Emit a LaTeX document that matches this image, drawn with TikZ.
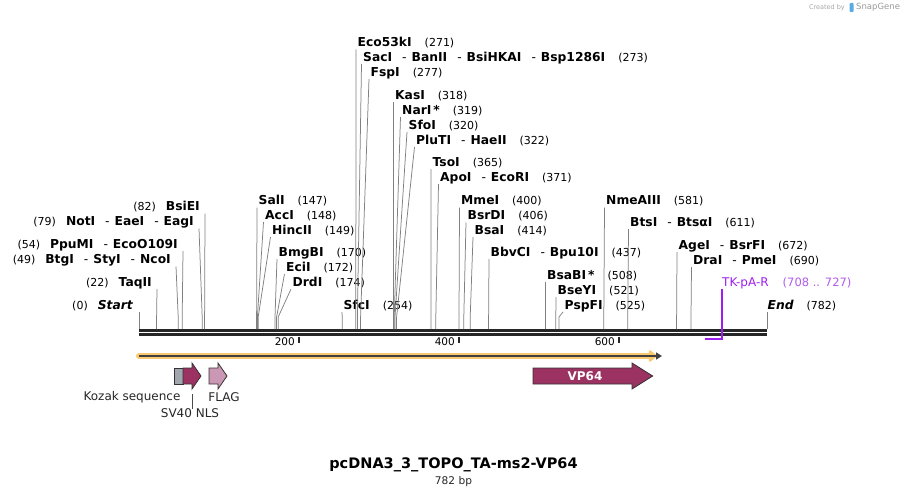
\documentclass[tikz,border=0pt]{standalone}
\usepackage{fontspec}
\setmainfont{DejaVu Sans}
\usepackage{xcolor}
\usetikzlibrary{positioning, arrows.meta}

\definecolor{cutgray}{RGB}{128,128,128}
\definecolor{featred}{RGB}{155,50,98}
\definecolor{flagpink}{RGB}{202,152,180}
\definecolor{kozakgray}{RGB}{160,166,174}
\definecolor{primerpurple}{RGB}{158,30,240}
\definecolor{primerlight}{RGB}{178,90,236}
\definecolor{orfglow}{RGB}{250,200,110}
\definecolor{logoblue}{RGB}{90,170,230}

% enzyme label helpers
\newcommand{\dsh}{\hspace{10pt}{\mdseries -}\hspace{5pt}}
\newcommand{\rcut}[2]{{\fontsize{12.3}{14}\selectfont\bfseries #1}\hspace{13pt}{\fontsize{11}{13}\selectfont(#2)}}
\newcommand{\lcut}[2]{{\fontsize{11}{13}\selectfont(#2)}\hspace{10pt}{\fontsize{12.3}{14}\selectfont\bfseries #1}}

\begin{document}
\begin{tikzpicture}[
      x=1pt, y=-1pt,
      cutline/.style={draw=cutgray, line width=0.75pt},
      cutlabel/.style={inner sep=0pt},
      backbone/.style={draw=black!85, line width=2.8pt},
      tickmark/.style={draw=black!85, line width=1.8pt},
      ticklabel/.style={inner sep=0pt, font=\fontsize{10.5}{12}\selectfont},
      featbox/.style={draw=black!80, line width=0.8pt},
      featlabel/.style={inner sep=0pt, font=\fontsize{12}{14}\selectfont, text=black!85},
      primer/.style={draw=primerpurple, line width=1.6pt}
    ]
    \useasboundingbox (0,0) rectangle (907,495);

    % sequence backbone
    \coordinate (seqL) at (139,329);
    \coordinate (seqR) at (767,329);
    \draw [backbone] (139,330.6) -- (767,330.6);
    \draw [backbone, line width=2.4pt] (139,334.6) -- (767,334.6);

    % ruler
    \foreach \t in {200,400,600} {
      \draw [tickmark] ({139+0.8*\t},336.5) -- ++(0,6.5);
      \node [ticklabel, anchor=base east] (tk\t) at ({139+0.8*\t-4},345) {\t};
    }

    % cut sites, labels on the right of the line
    \foreach \bp/\lx/\ly/\nm [count=\i] in {
        147/257/200.5/SalI, 148/263.5/215/AccI, 149/270.5/230/HincII,
        170/277/252/BmgBI, 172/284.5/267/EciI, 174/291/282/DrdI, 254/342/305/SfcI,
        271/356/42.5/Eco53kI, 273/361.5/57/{SacI\dsh BanII\dsh BsiHKAI\dsh Bsp1286I},
        277/369/72/FspI, 318/393.5/95/KasI, 319/400.5/110/{NarI\,*}, 320/407/125/SfoI,
        322/414.5/140/{PluTI\dsh HaeII}, 365/431/162/TsoI, 371/438.5/177/{ApoI\dsh EcoRI},
        400/459.5/200.5/MmeI, 406/466/215.5/BsrDI, 414/473/230/BsaI,
        437/489/252/{BbvCI\dsh Bpu10I}, 508/545.5/275/{BsaBI\,*}, 521/556/290/BseYI,
        525/563/305/PspFI, 581/604.5/200.5/NmeAIII, 611/628.5/222/{BtsI\dsh BtsαI},
        672/677/245/{AgeI\dsh BsrFI}, 690/691.5/260/{DraI\dsh PmeI}} {
      \node [cutlabel, anchor=base west] (rc\i) at (\lx+1.5,\ly+4.4) {\rcut{\nm}{\bp}};
      \coordinate (rs\i) at ({139+0.8*\bp},329);
      \draw [cutline] (rs\i) -- ++(0,-12) -- ([xshift=-1.5pt,yshift=-2.6pt]rc\i.base west);
    }

    % cut sites, labels on the left of the line
    \foreach \bp/\lx/\ly/\nm [count=\i] in {
        82/205/206.5/BsiEI, 79/199/221.5/{NotI\dsh EaeI\dsh EagI},
        54/183/244/{PpuMI\dsh EcoO109I}, 49/176/259.5/{BtgI\dsh StyI\dsh NcoI},
        22/157/282/TaqII} {
      \node [cutlabel, anchor=base east] (lc\i) at (\lx-5,\ly+4.4) {\lcut{\nm}{\bp}};
      \coordinate (ls\i) at ({139+0.8*\bp},329);
      \draw [cutline] (ls\i) -- ++(0,-12) -- ([xshift=5pt,yshift=-2.6pt]lc\i.base east);
    }

    % ends of the sequence
    \node [cutlabel, anchor=base east] (startlab) at (133,309.4) {\lcut{\itshape Start}{0}};
    \node [cutlabel, anchor=base west] (endlab) at (767.5,309.4) {\rcut{\itshape End}{782}};
    \draw [cutline] (seqL) -- ([xshift=6pt,yshift=-3pt]startlab.base east);
    \draw [cutline] (seqR) -- ([xshift=-0.5pt,yshift=-3pt]endlab.base west);

    % primer
    \node [cutlabel, anchor=base west, text=primerpurple, font=\fontsize{12}{14}\selectfont]
      (tklab) at (722,286) {TK-pA-R\hspace{14pt}{\color{primerlight}\fontsize{11.5}{13}\selectfont(708 .. 727)}};
    \coordinate (tk1) at ({139+0.8*708},339);
    \draw [primer] (tk1) -- (tk1 -| tklab.west) -- ([yshift=-2.5pt]tklab.base west);

    % open reading frame
    \draw [draw=orfglow, line width=6pt, line cap=round,
      -{Triangle[length=9pt, width=13pt, round]}] (139,356) -- (657,356);
    \draw [draw=black!75, line width=1.8pt, -{Triangle[length=6pt, width=7pt]}] (139,356) -- (662,356);

    % features
    \draw [featbox, fill=kozakgray] (174,368) rectangle (183,384);
    \draw [featbox, fill=featred] (183,368) -- (192,368) -- (192,363) -- (201,376)
      -- (192,389) -- (192,384) -- (183,384) -- cycle;
    \draw [featbox, fill=flagpink] (209,368) -- (218,368) -- (218,363) -- (227,376)
      -- (218,389) -- (218,384) -- (209,384) -- cycle;
    \draw [featbox, fill=featred] (533,368) -- (632,368) -- (632,363) -- (652.7,376)
      -- (632,389) -- (632,384) -- (533,384) -- cycle;
    \node [inner sep=0pt, text=white, font=\fontsize{12}{14}\selectfont\bfseries] (vp64) at (585,376) {VP64};

    \node [featlabel] (kozaklab) at (132,397.5) {Kozak sequence};
    \node [featlabel] (flaglab) at (224,397.5) {FLAG};
    \node [featlabel] (nlslab) at (190,413.5) {SV40 NLS};
    \coordinate (nlstip) at (192,394);
    \draw [draw=black!70, line width=0.7pt] (nlslab.north -| nlstip) -- (nlstip);

    % title
    \node [inner sep=0pt, font=\fontsize{14.5}{17}\selectfont\bfseries] (title) at (453.5,464.5) {pcDNA3\_3\_TOPO\_TA-ms2-VP64};
    \node [inner sep=0pt, font=\fontsize{10.6}{12}\selectfont, text=black!85, below=4pt of title] (bplen) {782 bp};

    % credit
    \node [inner sep=0pt, anchor=east, text=black!35, font=\fontsize{6.5}{8}\selectfont] (credit) at (845,7.5) {Created by};
    \fill [logoblue, rounded corners=1pt] (849.5,3) rectangle (853.5,12);
    \node [inner sep=0pt, anchor=west, text=black!40, font=\fontsize{8.5}{10}\selectfont] (sglogo) at (856,7.5) {SnapGene};
  \end{tikzpicture}
\end{document}
